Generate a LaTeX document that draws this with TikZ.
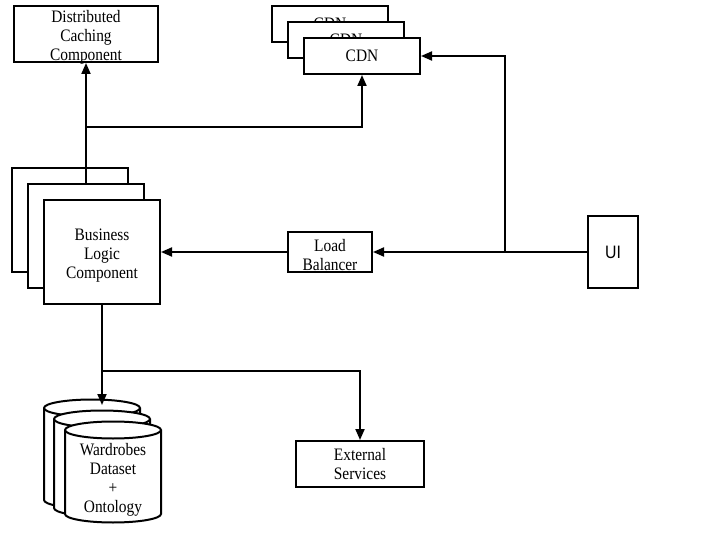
\documentclass[tikz,border=0pt]{standalone}
\usepackage{fontspec}
\setmainfont[FakeStretch=0.88]{Liberation Serif}
\newfontfamily\uifont[FakeStretch=0.88]{Liberation Sans}
\usetikzlibrary{arrows.meta}
\usetikzlibrary{calc}
\usetikzlibrary{positioning}

\begin{document}
\begin{tikzpicture}[
  x=1pt, y=-1pt,
  > = {Triangle[length=11pt,width=9pt]},
  line width=2pt,
  txt/.style = {align=center,inner sep=0pt,font=\fontsize{17.5}{19}\selectfont},
  box/.style = {draw,fill=white,txt},
  drum/.style = {x radius=48pt,y radius=8.5pt}
  ]
  \useasboundingbox (0,0) rectangle (720,540);

  \node[box,minimum width=144pt,minimum height=56pt] (cache) at (86,34) {};
  \node[txt] (cachetxt) at (86,37) {Distributed\\Caching\\Component};

	\node[box,minimum width=116pt,minimum height=36pt] (cdnb) at (330,24) {CDN};
	\node[box,minimum width=116pt,minimum height=36pt] (cdnm) at (346,40) {CDN};
	\node[box,minimum width=116pt,minimum height=36pt] (cdnf) at (362,56) {CDN};

	\node[box,minimum width=116pt,minimum height=104pt] (blcb) at (70,220) {};
	\node[box,minimum width=116pt,minimum height=104pt] (blcm) at (86,236) {};
	\node[box,minimum width=116pt,minimum height=104pt] (blcf) at (102,252) {};
	\node[txt] (blctxt) at (102,256) {Business\\Logic\\Component};

	\node[box,minimum width=84pt,minimum height=40pt] (lb) at (330,252) {};
	\node[txt] (lbtxt) at (330,255) {Load\\Balancer};
	\node[box,font=\uifont\fontsize{18}{20}\selectfont,minimum width=50pt,minimum height=72pt] (ui) at (613,252) {UI};

	\node[box,minimum width=128pt,minimum height=46pt] (ext) at (360,464) {External\\Services};

	\foreach \cx/\ct/\cb in {92/408/500, 102/419/508, 113/430/514}{
	  \filldraw[fill=white] (\cx-48,\ct) -- (\cx-48,\cb) arc[drum,start angle=180,end angle=360]
	    -- (\cx+48,\ct) arc[drum,start angle=0,end angle=180] -- cycle;
	  \draw (\cx-48,\ct) arc[drum,start angle=180,end angle=360];
	}
	\node[txt] (db) at (113,480) {Wardrobes\\Dataset\\+\\Ontology};

	\coordinate (j1) at (86,127);
	\coordinate (j2) at (505,252);
	\coordinate (j3) at (102,371);
	\coordinate (dbin) at (102,405);

	\draw[->] (blcm.north) -- (cache.south);
	\draw[->] (j1) -| (cdnf.south);
	\draw[->] (ui.west) -- (lb.east);
	\draw[->] (j2) |- (cdnf.east);
	\draw[->] (lb.west) -- (blcf.east);
	\draw[->] (blcf.south) -- (dbin);
	\draw[->] (j3) -| (ext.north);
\end{tikzpicture}
\end{document}
